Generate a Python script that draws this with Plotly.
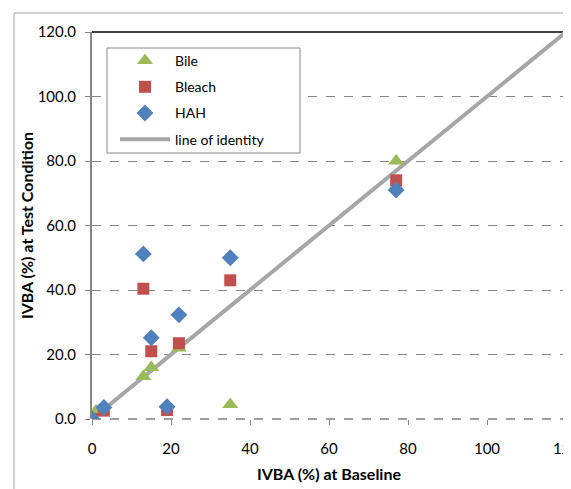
import plotly.graph_objects as go

bile_x = [1, 13, 15, 22, 35, 77]
bile_y = [2.5, 13.2, 16, 22, 4.5, 80]
bleach_x = [0, 3, 13, 15, 19, 22, 35, 77]
bleach_y = [0, 2.6, 40.4, 21, 2.8, 23.5, 43, 74]
hah_x = [0, 3, 13, 15, 19, 22, 35, 77]
hah_y = [0, 3.6, 51.2, 25.2, 3.8, 32.3, 50, 71]
identity = [0, 120]
x_ticks = [0, 20, 40, 60, 80, 100, 120]
y_ticks = [0, 20, 40, 60, 80, 100, 120]

FONT = "Lato"
fig = go.Figure()
fig.add_trace(go.Scatter(x=identity, y=identity, mode="lines", name="line of identity",
                         line=dict(color="#A6A6A6", width=4), legendrank=4, legendgroup="d"))
fig.add_trace(go.Scatter(x=bile_x, y=bile_y, mode="markers", name="Bile",
                         marker=dict(symbol="triangle-up", size=14, color="#9BBB59"),
                         legendrank=1, legendgroup="a"))
fig.add_trace(go.Scatter(x=bleach_x, y=bleach_y, mode="markers", name="Bleach",
                         marker=dict(symbol="square", size=12, color="#C0504D"),
                         legendrank=2, legendgroup="b"))
fig.add_trace(go.Scatter(x=hah_x, y=hah_y, mode="markers", name="HAH",
                         marker=dict(symbol="diamond", size=13, color="#4F81BD"),
                         legendrank=3, legendgroup="c"))

# page body has an 8px margin; compensate
OFF = 8
L, T, R, B = 92 - OFF, 32 - OFF, 5, 70
W, H = 571 - OFF, 489 - OFF
plot_w = W - L - R
plot_h = H - T - B


def px(xp):
    return (xp - 92) / plot_w


def py(yp):
    return (419 - yp) / plot_h


shapes = [
    dict(type="line", xref="paper", yref="paper", x0=px(14), y0=py(13), x1=1.2, y1=py(13),
         line=dict(color="#BFBFBF", width=1.5), layer="above"),
    dict(type="line", xref="paper", yref="paper", x0=px(14), y0=py(13), x1=px(14), y1=-0.3,
         line=dict(color="#BFBFBF", width=1.5), layer="above"),
    dict(type="line", xref="paper", yref="paper", x0=0, y0=1, x1=1, y1=1,
         line=dict(color="#000000", width=1.5), layer="below"),
    dict(type="line", xref="paper", yref="paper", x0=1, y0=0, x1=1, y1=1,
         line=dict(color="#404040", width=1.5), layer="below"),
    dict(type="line", xref="paper", yref="paper", x0=0, y0=0, x1=1, y1=0,
         line=dict(color="#404040", width=1.2, dash="dash"), layer="below"),
    dict(type="rect", xref="paper", yref="paper", x0=px(107), y0=py(153), x1=px(300), y1=py(48),
         line=dict(color="#868686", width=1), fillcolor="white", layer="above"),
]

fig.update_layout(
    width=W, height=H,
    margin=dict(l=L, r=R, t=T, b=B),
    paper_bgcolor="white", plot_bgcolor="white",
    font=dict(family=FONT, size=14, color="#000000"),
    showlegend=True,
    legend=dict(x=px(115), y=py(45), xanchor="left", yanchor="top",
                borderwidth=0, bgcolor="rgba(0,0,0,0)",
                font=dict(family=FONT, size=14), tracegroupgap=5,
                itemwidth=50),
    shapes=shapes,
    xaxis=dict(range=[0, 120], tickvals=x_ticks, ticktext=[str(v) for v in x_ticks],
               showgrid=False, zeroline=False, showline=False,
               ticks="outside", ticklen=5, tickcolor="#868686", automargin=False,
               ticklabeloverflow="allow", ticklabelstandoff=11,
               tickfont=dict(family=FONT, size=15),
               title=dict(text="<b>IVBA (%) at Baseline</b>", standoff=12,
                          font=dict(family=FONT, size=16))),
    yaxis=dict(range=[0, 120], tickvals=y_ticks, ticktext=[f"{v:.1f}" for v in y_ticks],
               showgrid=True, gridcolor="#868686", griddash="dash", gridwidth=1,
               zeroline=False, showline=True, linecolor="#868686", linewidth=2,
               ticks="outside", ticklen=5, tickcolor="#868686", automargin=False,
               ticklabelstandoff=6,
               tickfont=dict(family=FONT, size=15),
               title=dict(text="<b>IVBA (%) at Test Condition</b>", standoff=0,
                          font=dict(family=FONT, size=16))),
)
fig.write_html("out.html")
